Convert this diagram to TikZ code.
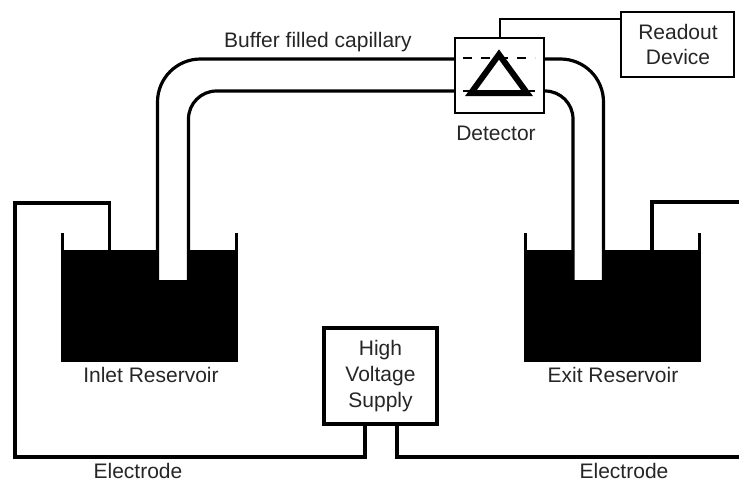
\documentclass[tikz,border=0pt]{standalone}
\usepackage{fontspec}
\setmainfont{Liberation Sans}
\usetikzlibrary{positioning,calc}
\tikzset{
  every picture/.style={line join=miter, line cap=butt},
  txt/.style={font=\fontsize{21}{25}\selectfont, text=black!85, inner sep=0pt, align=center},
  tank/.style={fill=black, draw=none, inner sep=0pt, minimum width=177pt, minimum height=112pt},
  tube/.style={line width=3.2pt},
  wire/.style={line width=3.4pt},
  devicebox/.style={draw, fill=white, inner sep=0pt, align=center},
}
\begin{document}
\begin{tikzpicture}[x=1pt,y=-1pt]
    \useasboundingbox (0,0) rectangle (739,480);
    % Reservoirs
    \node[tank] (inlet) at (149.5,306) {};
    \node[tank] (exit) at (612.5,306) {};
    \draw[line width=3pt] ($(inlet.north west)+(1.5,0)$) -- ++(0,-17);
    \draw[line width=3pt] ($(inlet.north east)+(-1.5,0)$) -- ++(0,-17);
    \draw[line width=3pt] ($(exit.north west)+(1.5,0)$) -- ++(0,-17);
    \draw[line width=3pt] ($(exit.north east)+(-1.5,0)$) -- ++(0,-17);
    % Capillary ends
    \fill[white] (157,248) rectangle (189,280);
    \fill[white] (572,248) rectangle (604,280);
    % Boxes
    \node[devicebox, line width=2pt, minimum width=89pt, minimum height=75pt] (detector) at (499.5,75.5) {};
    \node[devicebox, line width=2.4pt, minimum width=113pt, minimum height=65pt] (readout) at (677.5,44.5) {};
    \node[devicebox, line width=3.6pt, minimum width=113pt, minimum height=96pt] (supply) at (380.5,376) {};
    % Tube coordinates
    \coordinate (inOuter) at (157.5,280);
    \coordinate (inInner) at (188.5,280);
    \coordinate (exOuter) at (603.5,280);
    \coordinate (exInner) at (573,280);
    \coordinate (detOuterL) at (detector.west |- 0,59);
    \coordinate (detInnerL) at (detector.west |- 0,91);
    \coordinate (detOuterR) at (detector.east |- 0,59);
    \coordinate (detInnerR) at (detector.east |- 0,91);
    % Capillary
    \draw[tube, rounded corners=43pt] (inOuter) |- (detOuterL);
    \draw[tube, rounded corners=28pt] (inInner) |- (detInnerL);
    \draw[tube, rounded corners=43pt] (exOuter) |- (detOuterR);
    \draw[tube, rounded corners=28pt] (exInner) |- (detInnerR);
    % Detector marks
    \draw[dashed, line width=1.5pt, dash pattern=on 9pt off 9pt] (463,58) -- (535,58);
    \draw[dashed, line width=1.5pt, dash pattern=on 9pt off 2pt] (463,91) -- (535,91);
    \draw[line width=6pt] (499,54.5) -- (527,93) -- (471,93) -- cycle;
    % Wires
    \coordinate (readCorner) at (detector.north |- 0,19);
    \coordinate (readEnd) at (readout.west |- 0,19);
    \draw[line width=2pt] (detector.north) -- (readCorner) -- (readEnd);
    \coordinate (leftA) at (365,424);
    \coordinate (leftB) at (365,457);
    \coordinate (leftC) at (15,457);
    \coordinate (leftD) at (15,203);
    \coordinate (leftE) at (109.5,203);
    \coordinate (leftF) at (109.5,250);
    \draw[wire] (leftA) -- (leftB) -- (leftC) -- (leftD) -- (leftE) -- (leftF);
    \coordinate (rightA) at (397,424);
    \coordinate (rightB) at (397,457);
    \coordinate (rightC) at (739,457);
    \draw[wire] (rightA) -- (rightB) -- (rightC);
    \coordinate (topA) at (652,250);
    \coordinate (topB) at (652,202);
    \coordinate (topC) at (739,202);
    \draw[wire] (topA) -- (topB) -- (topC);
    % Labels
    \node[txt] (capLabel) at (318,42) {Buffer filled capillary};
    \node[txt] (detLabel) at (496,133) {Detector};
    \node[txt] (readLabel) at (678,44.5) {Readout\\Device};
    \node[txt] (supplyLabel) at (380.5,376) {High\\[1pt]Voltage\\[1pt]Supply};
    \node[txt] (inletLabel) at (151,375) {Inlet Reservoir};
    \node[txt] (exitLabel) at (613,375) {Exit Reservoir};
    \node[txt] (leftLabel) at (138,471) {Electrode};
    \node[txt] (rightLabel) at (624,471) {Electrode};
\end{tikzpicture}
\end{document}
